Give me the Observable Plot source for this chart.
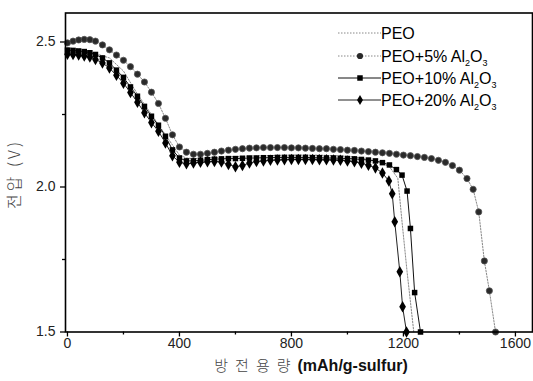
<!DOCTYPE html>
<html><head><meta charset="utf-8">
<script src="https://cdn.jsdelivr.net/npm/d3@7"></script>
<script src="https://cdn.jsdelivr.net/npm/@observablehq/plot@0.6"></script>
<style>body{margin:0;background:#fff} #chart{position:relative;width:533px;height:381px}</style>
</head><body><div id="chart"></div>
<script>
// ---- data (discharge capacity mAh/g-sulfur, voltage V) ----
const xPEO = [0,50,100,150,200,250,300,350,400,425,450,500,600,700,800,900,1000,1050,1100,1150,1180,1195,1213,1237];
const vPEO = [2.480,2.475,2.460,2.445,2.400,2.320,2.250,2.180,2.110,2.100,2.098,2.100,2.105,2.108,2.110,2.110,2.106,2.100,2.090,2.070,2.030,1.880,1.708,1.500];

const x5 = [0,20,40,60,80,100,125,150,175,200,225,250,275,300,325,350,375,400,425,450,475,500,525,550,575,600,625,650,675,700,725,750,775,800,825,850,875,900,925,950,975,1000,1025,1050,1075,1100,1125,1150,1175,1200,1225,1250,1275,1300,1325,1350,1375,1400,1427,1449,1469,1489,1507,1529];
const v5 = [2.497,2.503,2.507,2.509,2.508,2.503,2.490,2.473,2.455,2.437,2.415,2.389,2.362,2.327,2.288,2.237,2.180,2.138,2.120,2.113,2.113,2.116,2.120,2.124,2.127,2.130,2.132,2.134,2.135,2.136,2.136,2.136,2.136,2.135,2.135,2.134,2.133,2.132,2.132,2.130,2.129,2.127,2.126,2.124,2.122,2.120,2.118,2.116,2.113,2.110,2.108,2.105,2.102,2.098,2.092,2.085,2.074,2.058,2.029,1.992,1.914,1.745,1.642,1.500];

const x10 = [0,20,40,60,80,100,125,150,175,200,225,250,275,300,325,350,375,400,425,450,475,500,525,550,575,600,625,650,675,700,725,750,775,800,825,850,875,900,925,950,975,1000,1025,1050,1075,1100,1125,1150,1175,1195,1213,1225,1240,1261];
const v10 = [2.472,2.471,2.469,2.467,2.463,2.457,2.445,2.428,2.403,2.378,2.345,2.313,2.278,2.244,2.213,2.175,2.128,2.100,2.090,2.090,2.092,2.094,2.096,2.097,2.098,2.098,2.099,2.100,2.100,2.101,2.101,2.102,2.102,2.102,2.102,2.102,2.101,2.101,2.100,2.100,2.099,2.098,2.097,2.095,2.093,2.090,2.084,2.076,2.060,2.041,1.986,1.857,1.636,1.500];

const x20 = [0,20,40,60,80,100,125,150,175,200,225,250,275,300,325,350,375,400,425,450,475,500,525,550,575,600,625,650,675,700,725,750,775,800,825,850,875,900,925,950,975,1000,1025,1050,1075,1100,1125,1148,1160,1169,1187,1197,1211];
const v20 = [2.458,2.457,2.455,2.452,2.448,2.440,2.428,2.410,2.385,2.358,2.326,2.292,2.256,2.222,2.192,2.152,2.108,2.085,2.080,2.083,2.085,2.087,2.088,2.086,2.078,2.070,2.074,2.083,2.088,2.090,2.092,2.093,2.094,2.095,2.095,2.095,2.095,2.094,2.094,2.093,2.092,2.090,2.087,2.082,2.075,2.066,2.048,2.021,1.977,1.880,1.708,1.587,1.500];

const xTicks = [0,400,800,1200,1600];
const xMinor = [200,600,1000,1400];
const yTicks = [1.5,2.0,2.5];
const yMinor = [1.75,2.25];
const legendNames = ["PEO","PEO+5% Al","PEO+10% Al","PEO+20% Al"];
const xLabelKo = "방전용량";
const xLabelEn = "(mAh/g-sulfur)";
const yLabel = "전압 (V)";

const build = (xs, vs) => xs.map((x, i) => ({x, v: vs[i]}));
const dPEO = build(xPEO, vPEO), d5 = build(x5, v5), d10 = build(x10, v10), d20 = build(x20, v20);

const R = 3.1;
const plot = Plot.plot({
  width: 533, height: 381,
  marginLeft: 65, marginRight: 1, marginTop: 12.5, marginBottom: 49.5,
  x: {domain: [-7, 1661]},
  y: {domain: [1.5, 2.6]},
  style: {fontFamily: "'Liberation Sans', Arial, sans-serif", fontSize: "14px", color: "#222", background: "#fff"},
  marks: [
    Plot.axisX(xTicks, {tickSize: 5, tickPadding: 1, label: null, tickFormat: d => String(d), stroke: "#000", strokeWidth: 1.3}),
    Plot.axisX(xMinor, {tickSize: 3, label: null, tickFormat: () => "", stroke: "#000", strokeWidth: 1.3}),
    Plot.axisY(yTicks, {tickSize: 5, tickPadding: 5, label: null, tickFormat: d => d.toFixed(1), stroke: "#000", strokeWidth: 1.3}),
    Plot.axisY(yMinor, {tickSize: 3, label: null, tickFormat: () => "", stroke: "#000", strokeWidth: 1.3}),
    Plot.lineY(dPEO, {x: "x", y: "v", stroke: "#888", strokeWidth: 1, strokeDasharray: "1.5,1.5"}),
    Plot.lineY(d5, {x: "x", y: "v", stroke: "#888", strokeWidth: 1, strokeDasharray: "1.5,1.5"}),
    Plot.dot(d5, {x: "x", y: "v", symbol: "circle", r: R, fill: "#2a2a2a", stroke: "#555", strokeWidth: 0.8}),
    Plot.lineY(d10, {x: "x", y: "v", stroke: "#111", strokeWidth: 1}),
    Plot.dot(d10, {x: "x", y: "v", symbol: "square", r: R, fill: "#000"}),
    Plot.lineY(d20, {x: "x", y: "v", stroke: "#222", strokeWidth: 1}),
    Plot.dot(d20, {x: "x", y: "v", symbol: "diamond", r: R + 0.4, fill: "#000"}),
    Plot.frame({stroke: "#000", strokeWidth: 1.6})
  ]
});
document.getElementById("chart").appendChild(plot);

const svg = d3.select(plot);
// legend
const rowsY = [33, 56, 78, 100];
const lg = svg.append("g").attr("text-anchor", "start");
const styles = [
  {stroke: "#888", dash: "1.5,1.5", sym: null},
  {stroke: "#888", dash: "1.5,1.5", sym: d3.symbolCircle, fill: "#2a2a2a"},
  {stroke: "#111", dash: null, sym: d3.symbolSquare, fill: "#000"},
  {stroke: "#222", dash: null, sym: d3.symbolDiamond, fill: "#000"}
];
legendNames.forEach((name, i) => {
  const y = rowsY[i], st = styles[i];
  lg.append("line").attr("x1", 338).attr("x2", 381).attr("y1", y).attr("y2", y)
    .attr("stroke", st.stroke).attr("stroke-width", 1).attr("stroke-dasharray", st.dash);
  if (st.sym) {
    lg.append("path").attr("d", d3.symbol(st.sym, Math.PI * R * R)())
      .attr("transform", `translate(360,${y})`).attr("fill", st.fill);
  }
  const t = lg.append("text").attr("x", 381).attr("y", y + 5.5).attr("text-anchor", "start")
    .attr("font-family", "'Liberation Sans', Arial, sans-serif").attr("font-size", 16).attr("fill", "#000");
  t.append("tspan").text(name);
  if (i > 0) {
    t.append("tspan").attr("font-size", 9).attr("dy", 4).text("2");
    t.append("tspan").attr("dy", -4).text("O");
    t.append("tspan").attr("font-size", 9).attr("dy", 4).text("3");
  }
});
// axis labels
const xl = svg.append("text").attr("x", 311).attr("y", 371).attr("text-anchor", "middle").attr("font-size", 15);
xl.append("tspan").attr("font-family", "'Noto Sans CJK KR', sans-serif").attr("font-weight", 300).attr("fill", "#444").attr("letter-spacing", 7).text(xLabelKo);
xl.append("tspan").attr("font-family", "'Liberation Sans', Arial, sans-serif").attr("font-weight", "bold").attr("font-size", 16).attr("fill", "#111").text(xLabelEn);
svg.append("text").attr("transform", "translate(20,174) rotate(-90)").attr("text-anchor", "middle")
  .attr("font-family", "'Noto Sans CJK KR', sans-serif").attr("font-weight", 300).attr("font-size", 16)
  .attr("letter-spacing", 3).attr("fill", "#444").text(yLabel);
</script>
</body></html>
